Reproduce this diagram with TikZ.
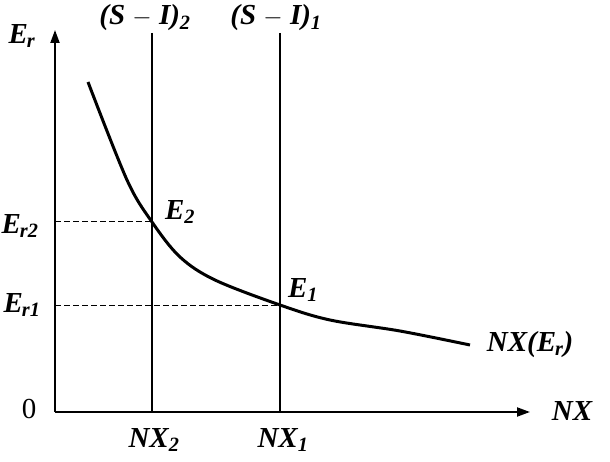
\documentclass[tikz,border=0pt]{standalone}
\usepackage{fontspec}
\setmainfont{Liberation Serif}
\usetikzlibrary{arrows.meta}
\begin{document}
\begin{tikzpicture}[x=1pt,y=-1pt,
  lbl/.style={font=\fontsize{29}{31}\selectfont\bfseries\itshape, inner sep=0pt},
  num/.style={font=\fontsize{29}{31}\selectfont, inner sep=0pt},
  axis/.style={line width=2pt, -{Triangle[length=13pt,width=9pt]}},
  vline/.style={line width=1.5pt},
  guide/.style={line width=1pt, dash pattern=on 6pt off 3pt},
  curve/.style={line width=3pt}]
\useasboundingbox (0,0) rectangle (610,462);
\coordinate (O) at (55,412);
\coordinate (ytop) at (55,30);
\coordinate (xend) at (530,412);
\draw[axis] (O) -- (ytop);
\draw[axis] (O) -- (xend);
\coordinate (v2t) at (152,33);
\coordinate (v2b) at (152,412);
\coordinate (v1t) at (280,33);
\coordinate (v1b) at (280,412);
\draw[vline] (v2t) -- (v2b);
\draw[vline] (v1t) -- (v1b);
\coordinate (E2pt) at (152,222);
\coordinate (E1pt) at (280,305);
\coordinate (a2) at (55,222);
\coordinate (a1) at (55,305);
\draw[guide] (a2) -- (E2pt);
\draw[guide] (a1) -- (E1pt);
\draw[curve] plot[smooth, tension=0.55] coordinates {(88,82) (127,180) (152,222) (180,257) (215,280) (280,305) (330,320) (400,331) (470,345)};
\node[lbl] (Er) at (22,36) {E\textsubscript{\kern-1pt r}};
\node[num] (zero) at (29,409) {0};
\node[lbl] (NX) at (572,411) {NX};
\node[lbl] (NX2) at (154,440) {NX\textsubscript{2}};
\node[lbl] (NX1) at (283,440) {NX\textsubscript{1}};
\node[lbl] (SI2) at (145,18) {(S $-$ I)\textsubscript{2}};
\node[lbl] (SI1) at (276,18) {(S $-$ I)\textsubscript{1}};
\node[lbl] (Er2) at (20,226) {E\textsubscript{\kern-1pt r2}};
\node[lbl] (Er1) at (22,305) {E\textsubscript{\kern-1pt r1}};
\node[lbl] (E2) at (180,212) {E\textsubscript{2}};
\node[lbl] (E1) at (303,290) {E\textsubscript{1}};
\node[lbl] (NXE) at (530,345) {NX(E\textsubscript{\kern-1pt r})};
\end{tikzpicture}
\end{document}
